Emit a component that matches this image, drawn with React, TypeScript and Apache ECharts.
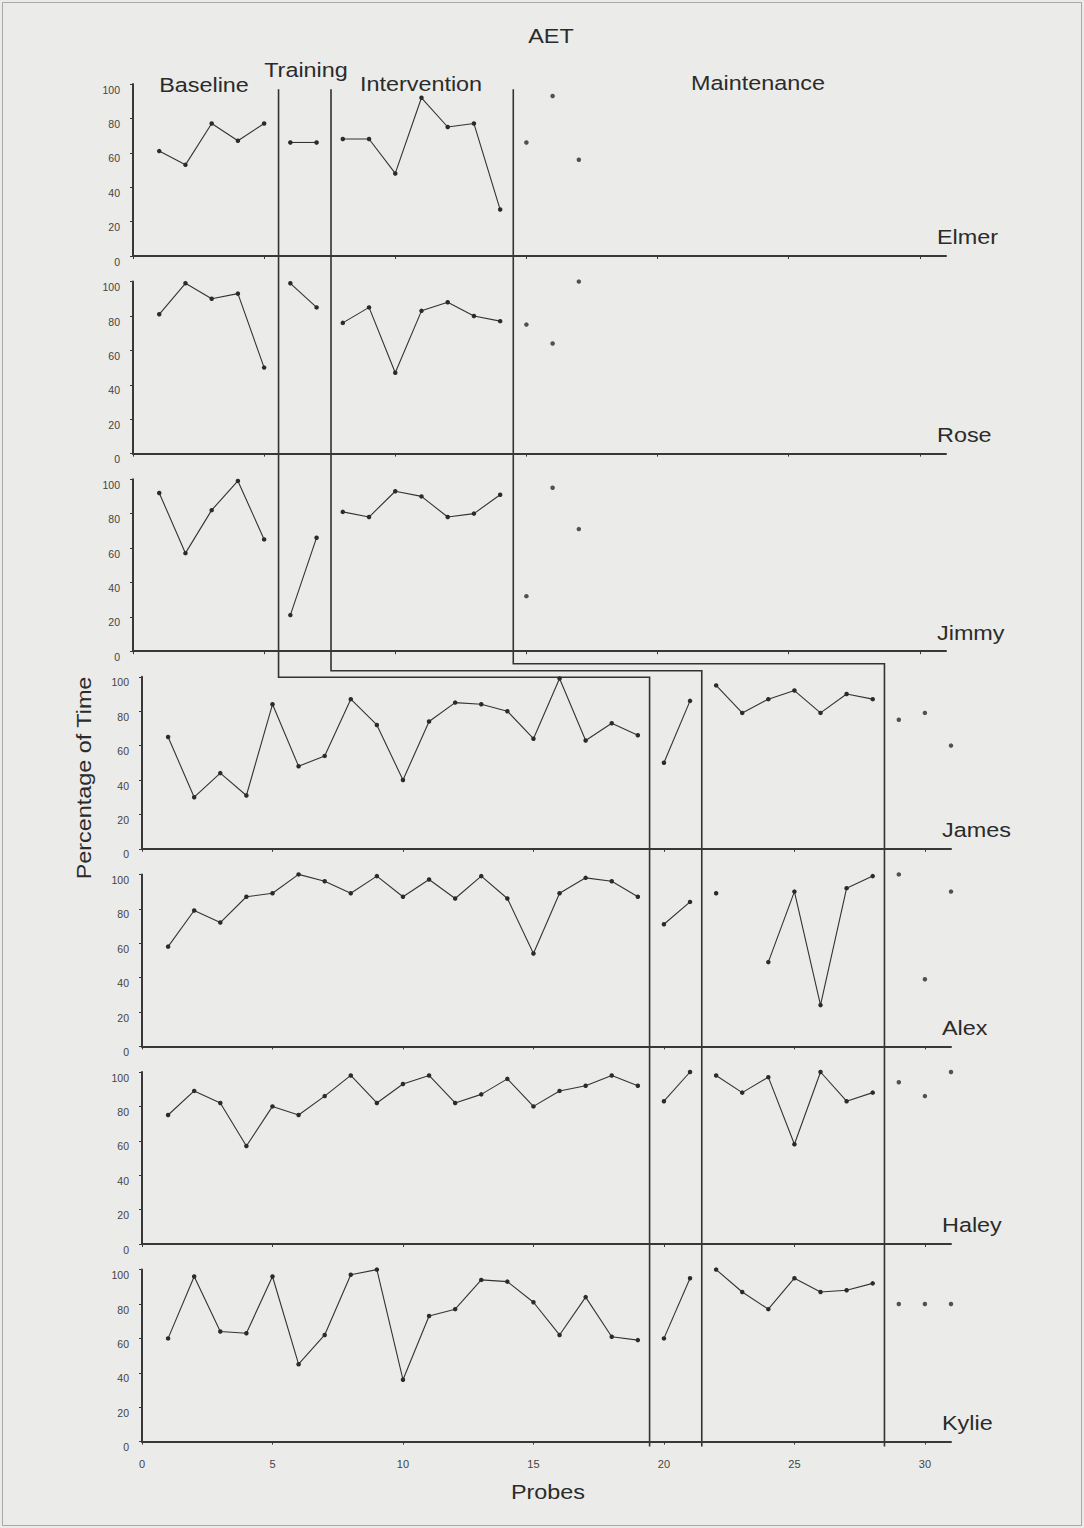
import React, { useEffect, useRef } from "react";
import * as echarts from "echarts";

// ---------- DATA ----------
const participants = ["Elmer", "Rose", "Jimmy", "James", "Alex", "Haley", "Kylie"];
const phaseNames = ["Baseline", "Training", "Intervention", "Maintenance"];

const elmerBaseline = [61, 53, 77, 67, 77];
const elmerTraining = [66, 66];
const elmerIntervention = [68, 68, 48, 92, 75, 77, 27];
const elmerMaintenance = [66, 93, 56];

const roseBaseline = [81, 99, 90, 93, 50];
const roseTraining = [99, 85];
const roseIntervention = [76, 85, 47, 83, 88, 80, 77];
const roseMaintenance = [75, 64, 100];

const jimmyBaseline = [92, 57, 82, 99, 65];
const jimmyTraining = [21, 66];
const jimmyIntervention = [81, 78, 93, 90, 78, 80, 91];
const jimmyMaintenance = [32, 95, 71];

const jamesBaseline = [65, 30, 44, 31, 84, 48, 54, 87, 72, 40, 74, 85, 84, 80, 64, 99, 63, 73, 66];
const jamesTraining = [50, 86];
const jamesIntervention = [95, 79, 87, 92, 79, 90, 87];
const jamesMaintenance = [75, 79, 60];

const alexBaseline = [58, 79, 72, 87, 89, 100, 96, 89, 99, 87, 97, 86, 99, 86, 54, 89, 98, 96, 87];
const alexTraining = [71, 84];
const alexIntervention = [89, null, 49, 90, 24, 92, 99];
const alexMaintenance = [100, 39, 90];

const haleyBaseline = [75, 89, 82, 57, 80, 75, 86, 98, 82, 93, 98, 82, 87, 96, 80, 89, 92, 98, 92];
const haleyTraining = [83, 100];
const haleyIntervention = [98, 88, 97, 58, 100, 83, 88];
const haleyMaintenance = [94, 86, 100];

const kylieBaseline = [60, 96, 64, 63, 96, 45, 62, 97, 100, 36, 73, 77, 94, 93, 81, 62, 84, 61, 59];
const kylieTraining = [60, 95];
const kylieIntervention = [100, 87, 77, 95, 87, 88, 92];
const kylieMaintenance = [80, 80, 80];

const xTickValues = [0, 5, 10, 15, 20, 25, 30];
const yTickValues = [0, 20, 40, 60, 80, 100];
// phase-change lines (probe positions) in the top three and bottom four panels
const topPhaseChanges = [5.55, 7.55, 14.5];
const bottomPhaseChanges = [19.45, 21.45, 28.45];

const panelPhases = [
  [elmerBaseline, elmerTraining, elmerIntervention, elmerMaintenance],
  [roseBaseline, roseTraining, roseIntervention, roseMaintenance],
  [jimmyBaseline, jimmyTraining, jimmyIntervention, jimmyMaintenance],
  [jamesBaseline, jamesTraining, jamesIntervention, jamesMaintenance],
  [alexBaseline, alexTraining, alexIntervention, alexMaintenance],
  [haleyBaseline, haleyTraining, haleyIntervention, haleyMaintenance],
  [kylieBaseline, kylieTraining, kylieIntervention, kylieMaintenance],
];

// ---------- LAYOUT ----------
const FONT = "'Liberation Sans', Arial, Helvetica, sans-serif";
const INK = "#2b2b2b";
const AXIS0_Y = [256, 453.6, 651.2, 848.8, 1046.4, 1244, 1441.6];
const PANEL_H = 172;
const STEP_OFFSETS = [26, 19.5, 12.5]; // below Jimmy's zero line
const BIG = 19.5;
const STRETCH = 1.2;

export default function App() {
  const ref = useRef<HTMLDivElement>(null);

  useEffect(() => {
    if (!ref.current) return;
    const chart = echarts.init(ref.current, null, { renderer: "svg" });

    const grids: any[] = [];
    const xAxes: any[] = [];
    const yAxes: any[] = [];
    const series: any[] = [];

    panelPhases.forEach((phases, i) => {
      const top = i < 3;
      grids.push({
        left: top ? 133 : 142,
        top: AXIS0_Y[i] - PANEL_H,
        width: top ? 813 : 809,
        height: PANEL_H,
        containLabel: false,
      });
      xAxes.push({
        type: "value",
        gridIndex: i,
        min: 0,
        max: 31,
        axisLine: { show: true, onZero: false, lineStyle: { color: "#383838", width: 2 } },
        axisTick: { show: true, length: 3, customValues: xTickValues, lineStyle: { color: "#383838", width: 1 } },
        axisLabel: {
          show: i === 6,
          customValues: xTickValues,
          fontSize: 11,
          color: "#444",
          margin: 17,
          fontFamily: FONT,
        },
        splitLine: { show: false },
      });
      yAxes.push({
        type: "value",
        gridIndex: i,
        min: 0,
        max: 100,
        interval: 20,
        axisLine: { show: true, onZero: false, lineStyle: { color: "#383838", width: 2 } },
        axisTick: { show: true, length: 3, customValues: yTickValues, lineStyle: { color: "#383838", width: 1 } },
        axisLabel: {
          customValues: yTickValues,
          fontSize: 10.5,
          color: "#444",
          margin: 13,
          verticalAlign: "top",
          fontFamily: FONT,
        },
        splitLine: { show: false },
      });

      let start = 1;
      phases.forEach((vals, p) => {
        const data = vals.map((v, k) => [start + k, v === null ? "-" : v]);
        start += vals.length;
        if (p === 3) {
          series.push({
            type: "scatter",
            name: participants[i] + " " + phaseNames[p],
            xAxisIndex: i,
            yAxisIndex: i,
            data,
            symbol: "circle",
            symbolSize: 4.5,
            itemStyle: { color: INK },
            silent: true,
            clip: false,
          });
        } else {
          series.push({
            type: "line",
            name: participants[i] + " " + phaseNames[p],
            xAxisIndex: i,
            yAxisIndex: i,
            data,
            symbol: "circle",
            symbolSize: 4.5,
            showSymbol: true,
            connectNulls: false,
            lineStyle: { color: "#333", width: 1.1 },
            itemStyle: { color: INK },
            silent: true,
            clip: false,
          });
        }
      });
    });

    chart.setOption({
      animation: false,
      backgroundColor: "transparent",
      grid: grids,
      xAxis: xAxes,
      yAxis: yAxes,
      series,
    });

    // phase-change lines, positioned through the axes
    const lines: any[] = [];
    const jimmyZero = chart.convertToPixel({ gridIndex: 2 }, [0, 0]) as number[];
    for (let k = 0; k < 3; k++) {
      const a = chart.convertToPixel({ gridIndex: 0 }, [topPhaseChanges[k], 97]) as number[];
      const b = chart.convertToPixel({ gridIndex: 6 }, [bottomPhaseChanges[k], 0]) as number[];
      const stepY = jimmyZero[1] + STEP_OFFSETS[k];
      lines.push({
        type: "polyline",
        silent: true,
        shape: { points: [[a[0], a[1]], [a[0], stepY], [b[0], stepY], [b[0], b[1] + 5]] },
        style: { stroke: "#333", lineWidth: 1.6, fill: null },
      });
    }

    const bigText = (text: string, x: number, y: number, align = "center", extra: any = {}) => ({
      type: "text",
      x,
      y,
      scaleX: STRETCH,
      silent: true,
      ...extra,
      style: {
        text,
        fontSize: BIG,
        fontFamily: FONT,
        fill: INK,
        textAlign: align,
        align,
        textVerticalAlign: "middle",
        verticalAlign: "middle",
      },
    });

    const texts: any[] = [
      bigText("AET", 551, 37),
      bigText(phaseNames[1], 306, 71),
      bigText(phaseNames[0], 204, 86),
      bigText(phaseNames[2], 421, 85),
      bigText(phaseNames[3], 758, 84),
      bigText("Probes", 548, 1493),
      bigText("Percentage of Time", 85, 778, "center", { rotation: Math.PI / 2 }),
    ];
    participants.forEach((name, i) => {
      texts.push(bigText(name, i < 3 ? 937 : 942, AXIS0_Y[i] - 18, "left"));
    });

    chart.setOption({
      graphic: [
        {
          type: "rect",
          silent: true,
          shape: { x: 2.5, y: 2.5, width: 1079, height: 1523 },
          style: { fill: null, stroke: "#a8a8a6", lineWidth: 1 },
        },
        ...lines,
        ...texts,
      ],
    });

    return () => chart.dispose();
  }, []);

  return (
    <div
      ref={ref}
      style={{
        position: "absolute",
        left: 0,
        top: 0,
        width: 1084,
        height: 1528,
        background: "#ebebe9",
      }}
    />
  );
}
